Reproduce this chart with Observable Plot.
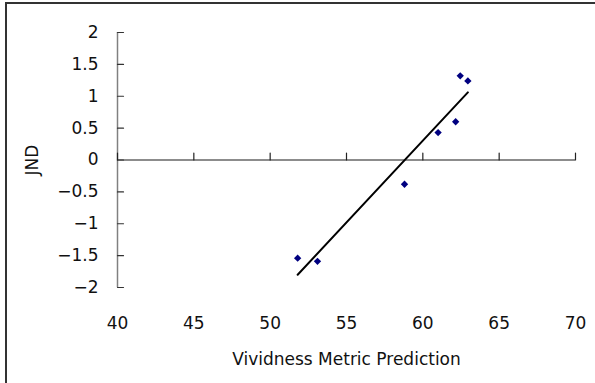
<!DOCTYPE html>
<html>
<head>
<meta charset="utf-8">
<script src="https://cdn.jsdelivr.net/npm/d3@7"></script>
<script src="https://cdn.jsdelivr.net/npm/@observablehq/plot@0.6"></script>
<style>
  html, body { margin: 0; padding: 0; background: #fff; }
  #wrap { position: relative; width: 595px; height: 383px; overflow: hidden; }
  #border { position: absolute; left: 5px; top: 2px; width: 700px; height: 500px; border: 2px solid #333; box-sizing: border-box; pointer-events: none; }
</style>
</head>
<body>
<div id="wrap"><div id="border"></div></div>
<script>
// Data
const vividness = [51.8, 53.1, 58.8, 61.0, 62.15, 62.45, 62.95];
const jnd       = [-1.54, -1.59, -0.38, 0.43, 0.60, 1.32, 1.24];
// Trend line endpoints (as drawn in the reference)
const trendX = [51.8, 62.95];
const trendY = [-1.80, 1.06];
const xTicks = [40, 45, 50, 55, 60, 65, 70];
const yTicks = [-2, -1.5, -1, -0.5, 0, 0.5, 1, 1.5, 2];

const points = vividness.map((v, i) => ({x: v, y: jnd[i]}));
const trend = trendX.map((v, i) => ({x: v, y: trendY[i]}));

const tickShape = {draw(context, l) { context.moveTo(0, 0); context.lineTo(0, -l); }};
const fmt = d => String(d).replace("-", "\u2212");
const FS = 17;

const chart = Plot.plot({
  width: 595,
  height: 383,
  marginLeft: 117,
  marginRight: 20,
  marginTop: 32,
  marginBottom: 96,
  style: {fontFamily: "DejaVu Sans", fontSize: FS + "px", color: "#111", background: "transparent"},
  x: {domain: [40, 70]},
  y: {domain: [-2, 2]},
  marks: [
    Plot.axisX({ticks: xTicks, tickFormat: fmt, tickSize: 0, tickPadding: 29, fontSize: FS, label: null}),
    Plot.axisX({ticks: [], tickSize: 0, fontSize: FS, label: "Vividness Metric Prediction", labelAnchor: "center", labelArrow: "none", labelOffset: 77}),
    Plot.axisY({ticks: yTicks, tickFormat: fmt, tickSize: 0, tickPadding: 19, fontSize: FS, label: "JND", labelAnchor: "center", labelArrow: "none", labelOffset: 92}),
    Plot.ruleX([40], {stroke: "#808080", strokeWidth: 1.5}),
    Plot.ruleY([0], {stroke: "#666", strokeWidth: 1.5}),
    Plot.vector(yTicks, {x: () => 40, y: d => d, length: 6, rotate: 90, anchor: "start", shape: tickShape, stroke: "#333", strokeWidth: 1.2}),
    Plot.vector(xTicks, {x: d => d, y: () => 0, length: 7, rotate: 0, anchor: "start", shape: tickShape, stroke: "#222", strokeWidth: 1.2}),
    Plot.line(trend, {x: "x", y: "y", stroke: "#000", strokeWidth: 2}),
    Plot.dot(points, {x: "x", y: "y", symbol: "diamond2", r: 3.3, fill: "#000080", stroke: "none"})
  ]
});
document.getElementById("wrap").prepend(chart);
chart.style.position = "absolute";
chart.style.left = "0";
chart.style.top = "0";
</script>
</body>
</html>
